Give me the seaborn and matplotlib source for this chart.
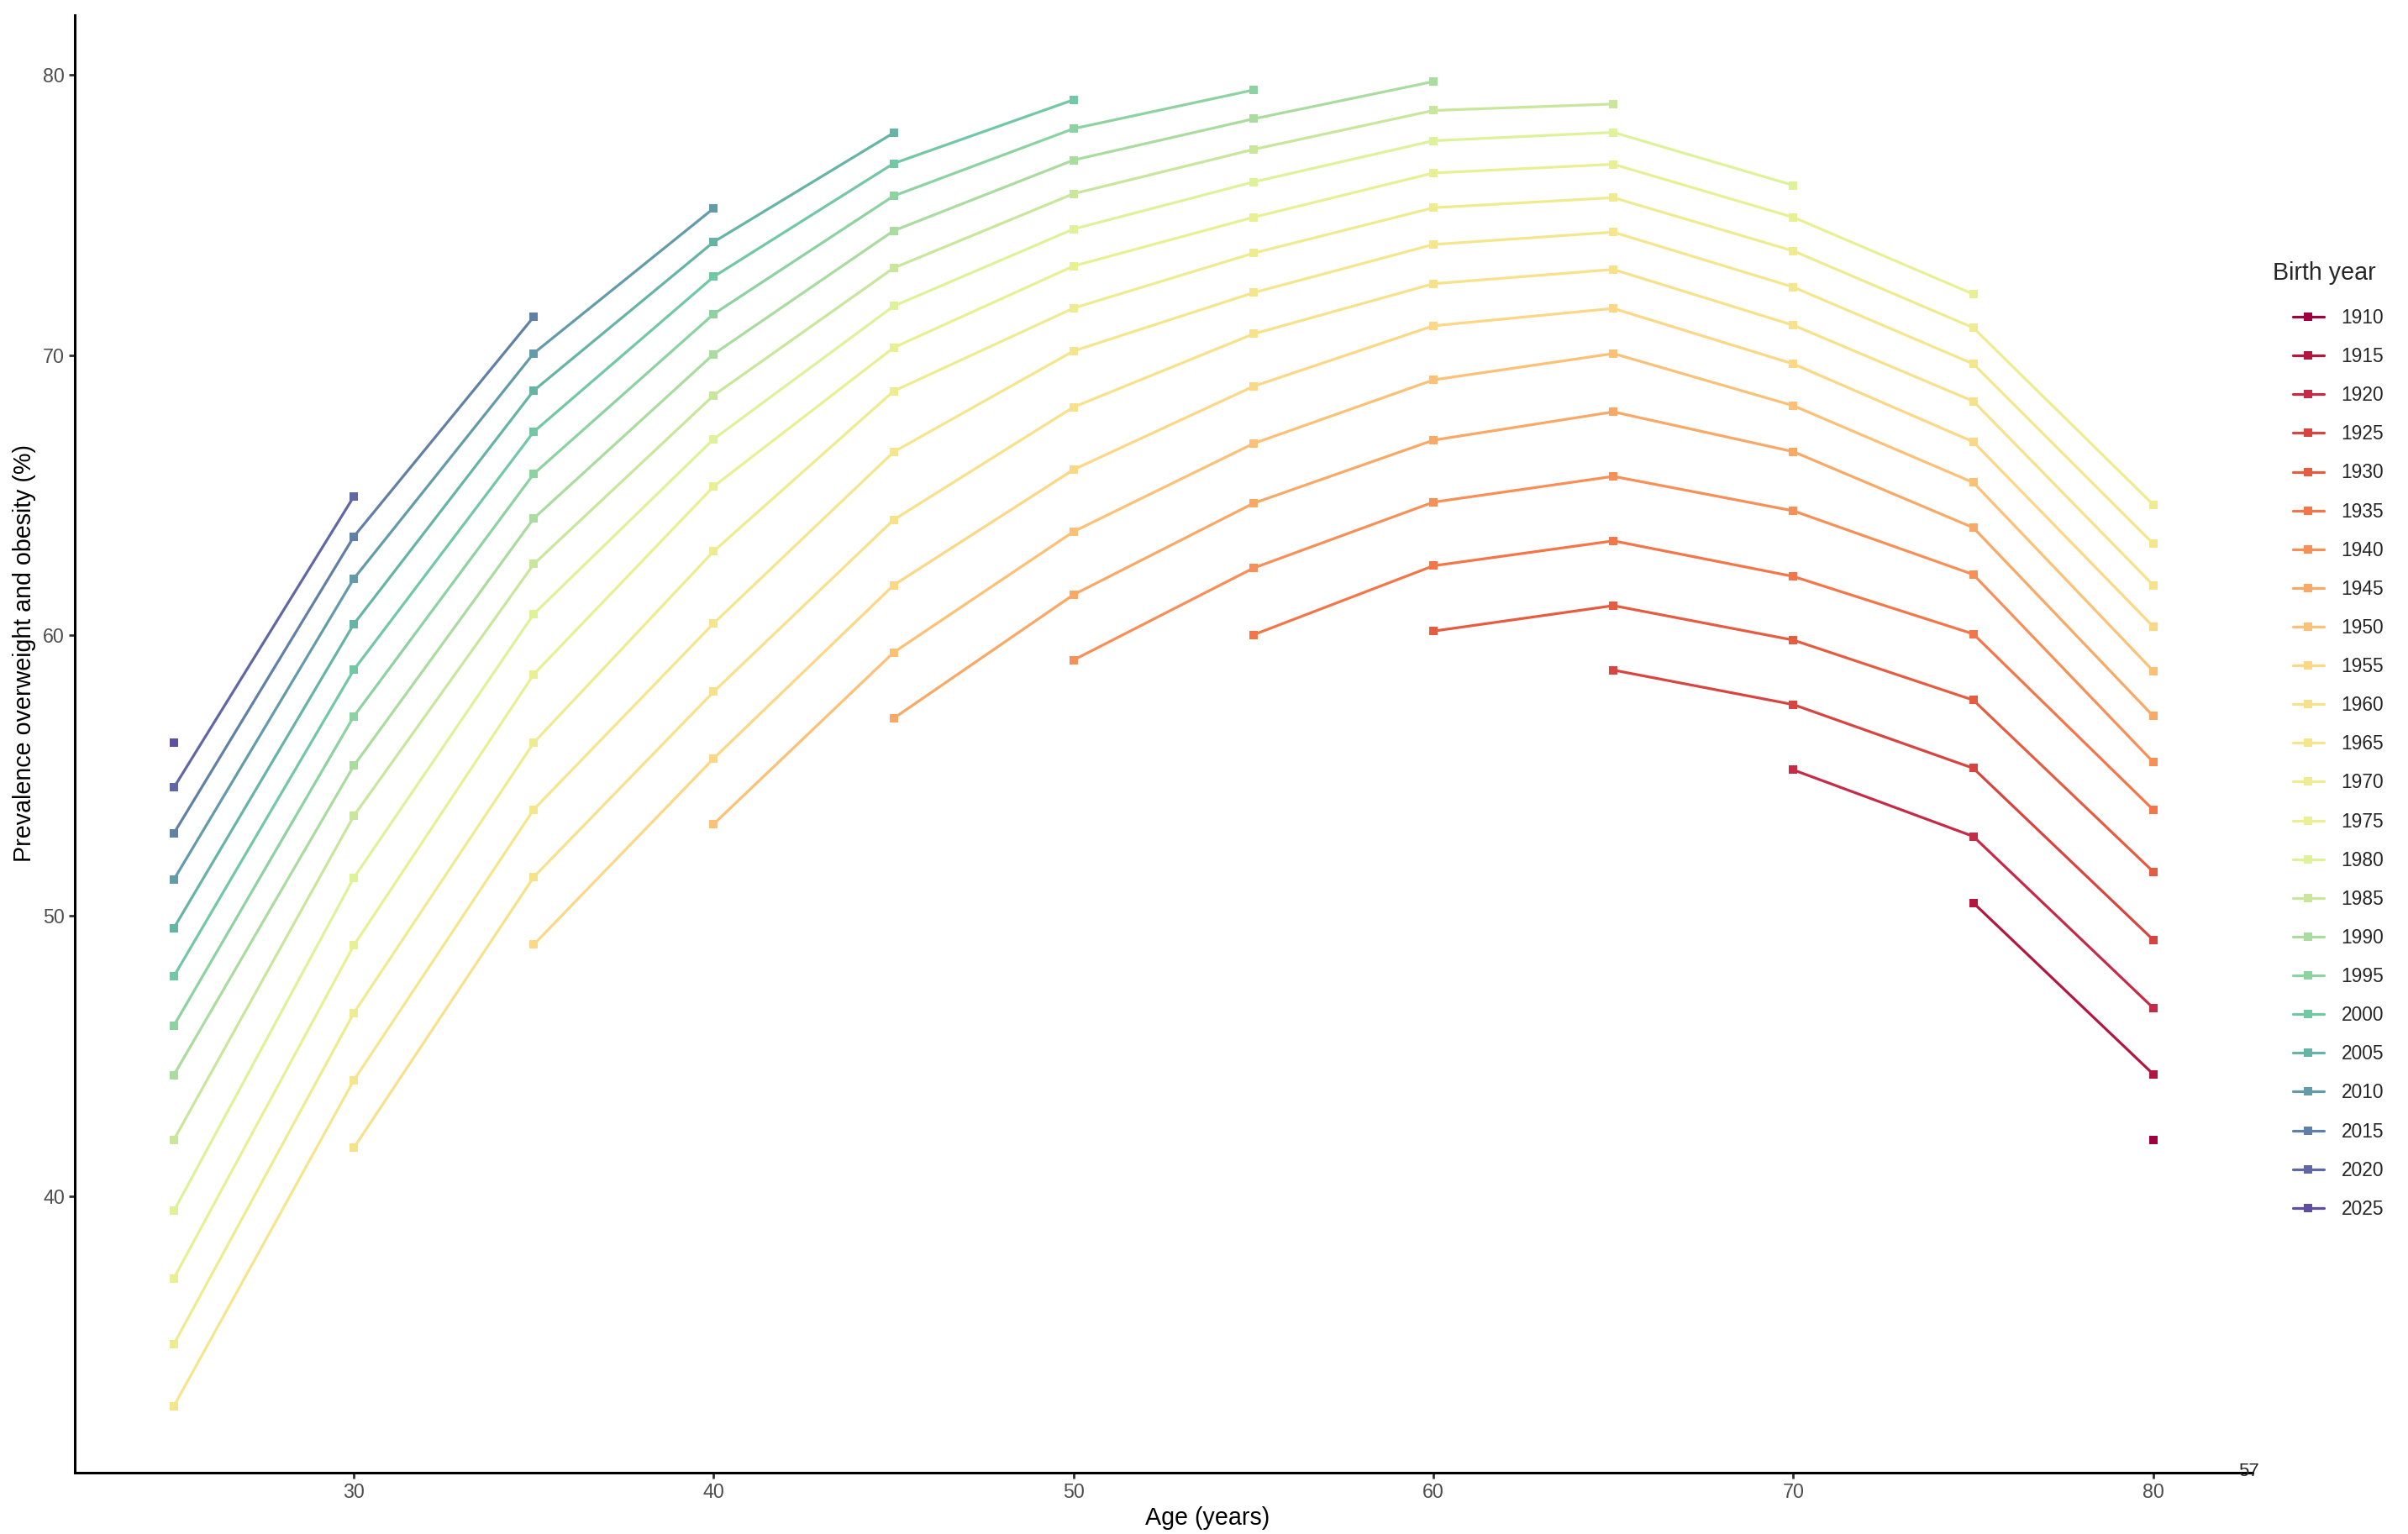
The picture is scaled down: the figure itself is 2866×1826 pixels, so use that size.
import pandas as pd
import seaborn as sns
import matplotlib.pyplot as plt
from matplotlib.lines import Line2D

# Prevalence of overweight and obesity (%) per age group.
# Each list runs from the oldest to the youngest birth cohort observed at that age
# (survey rounds 1990, 1995, ..., 2050)
ages = [25, 30, 35, 40, 45, 50, 55, 60, 65, 70, 75, 80]
rounds = list(range(1990, 2051, 5))
birth_years = list(range(1910, 2026, 5))

prev_25 = [32.51, 34.72, 37.07, 39.47, 42.01, 44.32, 46.08, 47.84, 49.56, 51.29, 52.94, 54.57, 56.17]
prev_30 = [41.72, 44.13, 46.53, 48.94, 51.35, 53.56, 55.35, 57.11, 58.77, 60.40, 62.02, 63.52, 64.95]
prev_35 = [48.97, 51.38, 53.79, 56.17, 58.61, 60.76, 62.54, 64.17, 65.76, 67.26, 68.73, 70.06, 71.36]
prev_40 = [53.27, 55.61, 57.99, 60.43, 63.00, 65.31, 67.00, 68.56, 70.03, 71.46, 72.79, 74.03, 75.23]
prev_45 = [57.04, 59.39, 61.79, 64.12, 66.54, 68.71, 70.26, 71.74, 73.10, 74.43, 75.67, 76.83, 77.92]
prev_50 = [59.12, 61.45, 63.70, 65.91, 68.14, 70.14, 71.67, 73.17, 74.49, 75.75, 76.95, 78.07, 79.10]
prev_55 = [60.02, 62.40, 64.71, 66.84, 68.88, 70.75, 72.22, 73.63, 74.91, 76.17, 77.33, 78.42, 79.45]
prev_60 = [60.15, 62.48, 64.75, 66.96, 69.11, 71.04, 72.54, 73.94, 75.25, 76.49, 77.64, 78.72, 79.75]
prev_65 = [58.76, 61.06, 63.37, 65.67, 67.97, 70.05, 71.66, 73.05, 74.38, 75.61, 76.80, 77.94, 78.95]
prev_70 = [55.20, 57.53, 59.83, 62.10, 64.44, 66.55, 68.19, 69.68, 71.06, 72.42, 73.71, 74.91, 76.05]
prev_75 = [50.46, 52.83, 55.26, 57.69, 60.05, 62.17, 63.84, 65.45, 66.90, 68.35, 69.68, 70.97, 72.17]
prev_80 = [42.01, 44.35, 46.71, 49.14, 51.57, 53.78, 55.48, 57.12, 58.73, 60.31, 61.79, 63.27, 64.66]

prev_by_age = [prev_25, prev_30, prev_35, prev_40, prev_45, prev_50,
               prev_55, prev_60, prev_65, prev_70, prev_75, prev_80]

# long format table: one row per (age, cohort)
rows = []
for age, vals in zip(ages, prev_by_age):
    for yr, v in zip(rounds, vals):
        rows.append({'age': age, 'cohort': str(yr - age), 'prev': v})
df = pd.DataFrame(rows)

cohort_labels = [str(b) for b in birth_years]
colors = ['#9E0142', '#B2173F', '#C52A47', '#D8443F', '#E65C41', '#F47648',
          '#F78F57', '#F9A866', '#FCC176', '#FCD785', '#F8E18B', '#F5E68E',
          '#EFEB90', '#E9F094', '#DEF29A', '#C8E79C', '#A9DC9E', '#8DD2A1',
          '#72C8A4', '#66B4A6', '#639BA9', '#6080A5', '#5F68A4', '#5E4FA2']

sns.set_theme(style='ticks')
plt.rcParams['font.family'] = ['Liberation Sans', 'DejaVu Sans']

fig = plt.figure(figsize=(14.33, 9.13), dpi=200)
ax = fig.add_axes([0.0311, 0.0402, 0.9042, 0.9498])

sns.lineplot(data=df, x='age', y='prev', hue='cohort', hue_order=cohort_labels,
             palette=colors, marker='s', markersize=3.8, markeredgewidth=0,
             linewidth=1.15, estimator=None, legend=False, ax=ax)

# ggplot-like 5% expansion
xpad = 0.05 * (max(ages) - min(ages))
ymin, ymax = df['prev'].min(), df['prev'].max()
ypad = 0.05 * (ymax - ymin)
ax.set_xlim(min(ages) - xpad, max(ages) + xpad)
ax.set_ylim(ymin - ypad, ymax + ypad)
ax.set_xticks([30, 40, 50, 60, 70, 80])
ax.set_yticks([40, 50, 60, 70, 80])

sns.despine(ax=ax)
for s in ['left', 'bottom']:
    ax.spines[s].set_linewidth(1.1)
    ax.spines[s].set_color('black')
ax.tick_params(length=2.4, width=1.0, color='#333333', labelcolor='#4D4D4D',
               labelsize=8.4, pad=2)

ax.set_xlabel('Age (years)', fontsize=10.3, color='black')
ax.set_ylabel('Prevalence overweight and obesity (%)', fontsize=10.3, color='black')
ax.xaxis.set_label_coords(0.52, -0.0233)
ax.yaxis.set_label_coords(-0.0178, 0.562)

# legend
handles = [Line2D([], [], color=c, linewidth=1.15, marker='s', markersize=3.8,
                  markeredgewidth=0) for c in colors]
fig.text(2705 / 2866, 1 - 325 / 1826, 'Birth year', fontsize=10.3, va='center', ha='left')
ax.legend(handles, cohort_labels, loc='upper left', bbox_to_anchor=(2729 / 2866, 1 - 367 / 1826),
          bbox_transform=fig.transFigure, frameon=False, fontsize=8.2, borderpad=0,
          borderaxespad=0, handlelength=1.62, handletextpad=0.9, labelspacing=1.015)

fig.text(2676 / 2866, 1 - 1751 / 1826, '57', fontsize=8, ha='center', va='center')

fig.savefig('out.png', dpi=200)
